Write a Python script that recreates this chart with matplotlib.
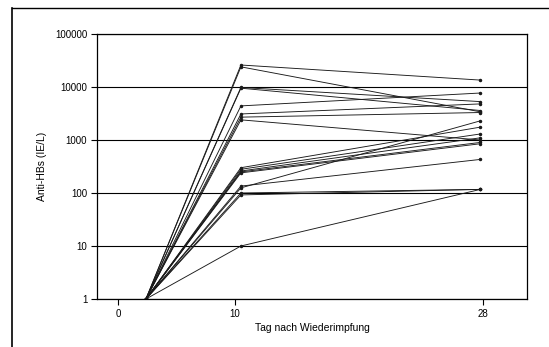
import numpy as np
import matplotlib
matplotlib.use("Agg")
import matplotlib.pyplot as plt
from matplotlib.lines import Line2D

plt.rcParams['font.family'] = ['Liberation Sans', 'DejaVu Sans']

#   ///////   data   ///////
# anti-HBs (IE/L) per person: before, day 10, day 28 after booster
start   = 1
day10   = [26000, 24000, 9800, 9500, 4400, 3100, 2700, 2400,
           300, 280, 260, 250, 240, 135, 125, 100, 92, 10]
day28   = [13500, 3400, 5300, 3600, 7700, 4800, 3300, 1000,
           1750, 1300, 1100, 900, 850, 430, 2300, 117, 117, 117]
tick_labels = ["0", "10", "28"]
#   ///////     ///////

# axis placement (the original x axis is not to scale)
x_pos    = [2.4, 10.55, 31.1]
tick_pos = [0, 10, 31.3]

fig = plt.figure(figsize=(5.49, 3.47), dpi=100)
ax = fig.add_axes([97/549, 48/347, 430/549, 265/347])

for a, b in zip(day10, day28):
    ax.plot(x_pos, [start, a, b], color='#1a1a1a', lw=0.65,
            marker='o', ms=1.5, mec='#1a1a1a', mfc='#1a1a1a')

ax.set_yscale('log')
ax.set_ylim(1, 100000)
ax.set_xlim(-1.8, 35.1)
ax.set_yticks([1, 10, 100, 1000, 10000, 100000])
ax.set_yticklabels(["1", "10", "100", "1000", "10000", "100000"])
ax.yaxis.set_minor_locator(matplotlib.ticker.NullLocator())
ax.set_xticks(tick_pos)
ax.set_xticklabels(tick_labels)
ax.grid(axis='y', which='major', color='black', lw=0.8)
ax.tick_params(labelsize=7, length=4, width=0.8, color='black', pad=3)
for s in ax.spines.values():
    s.set_linewidth(0.9)
    s.set_color('black')

ax.set_ylabel("Anti-HBs (IE/L)", fontsize=7.5, labelpad=6)
ax.set_xlabel("Tag nach Wiederimpfung", fontsize=7.5, labelpad=3)

# outer frame of the scanned figure
fig.add_artist(Line2D([12/549, 1.0], [1 - 8/347, 1 - 8/347], transform=fig.transFigure,
                      color='black', lw=1.0))
fig.add_artist(Line2D([12/549, 12/549], [0, 1 - 8/347], transform=fig.transFigure,
                      color='black', lw=1.2))

fig.savefig("out.png", dpi=100)
